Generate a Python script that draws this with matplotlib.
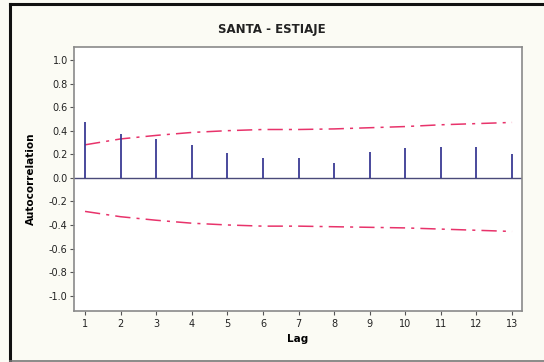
import matplotlib
matplotlib.use('Agg')
import matplotlib.pyplot as plt
from matplotlib.lines import Line2D

# Autocorrelation values
lags = [1, 2, 3, 4, 5, 6, 7, 8, 9, 10, 11, 12, 13]
acf = [0.47, 0.375, 0.33, 0.28, 0.21, 0.17, 0.165, 0.13, 0.22, 0.25, 0.265, 0.265, 0.205]
upper_limit = [0.28, 0.33, 0.36, 0.385, 0.40, 0.41, 0.41, 0.415, 0.425, 0.435, 0.45, 0.46, 0.47]
lower_limit = [-0.285, -0.33, -0.36, -0.385, -0.40, -0.41, -0.41, -0.415, -0.42, -0.425, -0.435, -0.445, -0.455]
yticks = [-1.0, -0.8, -0.6, -0.4, -0.2, 0.0, 0.2, 0.4, 0.6, 0.8, 1.0]

fig = plt.figure(figsize=(5.44, 3.62), dpi=100)
fig.patch.set_facecolor('#fbfbf4')

ax = fig.add_axes([74 / 544, 1 - 311 / 362, (522 - 74) / 544, (311 - 47) / 362])
ax.set_facecolor('white')

# limits (dash-dot pink)
ax.plot(lags, upper_limit, color='#e8336b', lw=1.1, ls=(0, (10, 4, 2, 4)))
ax.plot(lags, lower_limit, color='#e8336b', lw=1.1, ls=(0, (10, 4, 2, 4)))

# zero line and spikes
ax.axhline(0, color='#4a4a7a', lw=1.0)
ax.vlines(lags, 0, acf, color='#3a3a94', lw=1.3)

ax.set_xlim(0.69, 13.28)
ax.set_ylim(-1.13, 1.11)
ax.set_xticks(lags)
ax.set_yticks(yticks)
ax.set_yticklabels(['%.1f' % v for v in yticks])
ax.tick_params(axis='both', labelsize=7, length=3, width=0.8, color='#555555',
               labelcolor='#222222', pad=1.5)
ax.tick_params(axis='x', pad=2.5)
for s in ax.spines.values():
    s.set_color('#8a8a8a')
    s.set_linewidth(1.2)

ax.set_xlabel('Lag', fontsize=7.5, fontweight='bold', labelpad=3.5)
ax.set_ylabel('Autocorrelation', fontsize=7.5, fontweight='bold', labelpad=9)
fig.text(272 / 544, 1 - 30 / 362, 'SANTA - ESTIAJE', ha='center', va='center',
         fontsize=8.5, fontweight='bold', color='#222222')

# outer frame
fig.add_artist(Line2D([9.5 / 544, 9.5 / 544], [1 - 3.5 / 362, 1 - 360.5 / 362],
                      transform=fig.transFigure, color='#111111', lw=2.2))
fig.add_artist(Line2D([9.5 / 544, 1.0], [1 - 3.5 / 362, 1 - 3.5 / 362],
                      transform=fig.transFigure, color='#111111', lw=2.2))
fig.add_artist(Line2D([9.5 / 544, 1.0], [1 - 360.5 / 362, 1 - 360.5 / 362],
                      transform=fig.transFigure, color='#777777', lw=1.2))

fig.savefig('out.png', dpi=100, facecolor=fig.get_facecolor())
